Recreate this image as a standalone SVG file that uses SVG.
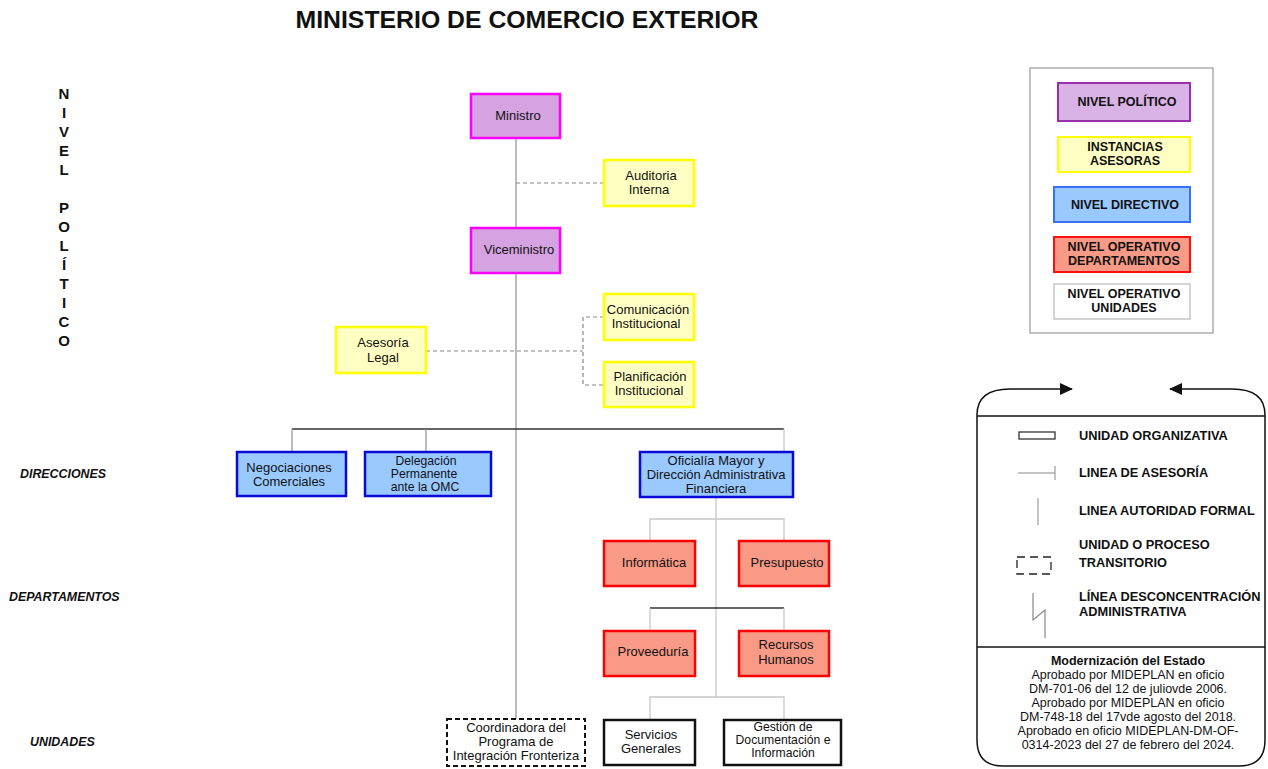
<svg xmlns="http://www.w3.org/2000/svg" width="1268" height="769" viewBox="0 0 1268 769">
<style>
text{font-family:"Liberation Sans",Arial,sans-serif;fill:#111;}
.t{font-size:13px;text-anchor:middle;}
.t3{font-size:12.2px;text-anchor:middle;}
.title{font-size:24.8px;font-weight:bold;text-anchor:middle;}
.side{font-size:15px;font-weight:bold;text-anchor:middle;}
.lvl{font-size:12.4px;font-weight:bold;font-style:italic;}
.leg{font-size:12.5px;font-weight:bold;text-anchor:middle;}
.leg2{font-size:12.8px;font-weight:bold;}
.foot{font-size:12.5px;text-anchor:middle;}
.pol{fill:#d5a3e2;stroke:#ff00ff;stroke-width:2.5;}
.ase{fill:#ffffc4;stroke:#ffff00;stroke-width:2.5;}
.dir{fill:#99c9ff;stroke:#0a0ad8;stroke-width:2.5;}
.dep{fill:#f99a86;stroke:#ff0000;stroke-width:2.5;}
.uni{fill:#fff;stroke:#111;stroke-width:2.5;}
.tra{fill:#fff;stroke:#111;stroke-width:2;stroke-dasharray:5 3;}
.g{stroke:#999;stroke-width:1.3;fill:none;}
.lg{stroke:#c8c8c8;stroke-width:1.3;fill:none;}
.dk{stroke:#333;stroke-width:1.3;fill:none;}
.ds{stroke:#888;stroke-width:1.2;stroke-dasharray:4 3;fill:none;}
</style>
<defs>
<marker id="ah" markerWidth="13" markerHeight="12" refX="12" refY="6" orient="auto" markerUnits="userSpaceOnUse"><path d="M0,0 L13,6 L0,12 z" fill="#111"/></marker>
</defs>
<text class="title" x="527" y="28">MINISTERIO DE COMERCIO EXTERIOR</text>
<g id="side-label">
<text class="side" x="64" y="99">N</text>
<text class="side" x="64" y="118">I</text>
<text class="side" x="64" y="137">V</text>
<text class="side" x="64" y="156">E</text>
<text class="side" x="64" y="175">L</text>
<text class="side" x="64" y="213">P</text>
<text class="side" x="64" y="232">O</text>
<text class="side" x="64" y="251">L</text>
<text class="side" x="64" y="270">Í</text>
<text class="side" x="64" y="289">T</text>
<text class="side" x="64" y="308">I</text>
<text class="side" x="64" y="327">C</text>
<text class="side" x="64" y="346">O</text>
</g>
<text class="lvl" x="20" y="478">DIRECCIONES</text>
<text class="lvl" x="9" y="601">DEPARTAMENTOS</text>
<text class="lvl" x="30" y="746">UNIDADES</text>
<g id="connectors">
<line class="g" x1="516" y1="138" x2="516" y2="719"/>
<line class="ds" x1="516" y1="183" x2="604" y2="183"/>
<line class="ds" x1="426" y1="351" x2="583" y2="351"/>
<polyline class="ds" points="604,317 583,317 583,385 604,385"/>
<line class="dk" x1="292" y1="429" x2="784" y2="429"/>
<line class="g" x1="292" y1="429" x2="292" y2="451"/>
<line class="g" x1="426" y1="429" x2="426" y2="451"/>
<line class="lg" x1="784" y1="429" x2="784" y2="451"/>
<line class="lg" x1="716" y1="497" x2="716" y2="697"/>
<polyline class="lg" points="650,540 650,519 784,519 784,540"/>
<line class="dk" x1="650" y1="608" x2="784" y2="608"/>
<line class="lg" x1="650" y1="608" x2="650" y2="631"/>
<line class="lg" x1="784" y1="608" x2="784" y2="631"/>
<polyline class="lg" points="650,720 650,697 784,697 784,720"/>
</g>
<g id="ministro"><rect class="pol" x="471" y="94" width="89" height="44"/><text class="t" x="518" y="120">Ministro</text></g>
<g id="auditoria"><rect class="ase" x="604" y="160" width="90" height="46"/><text class="t" x="651" y="180">Auditoria</text><text class="t" x="649" y="194">Interna</text></g>
<g id="viceministro"><rect class="pol" x="471" y="228" width="89" height="45"/><text class="t" x="519" y="254">Viceministro</text></g>
<g id="comunicacion"><rect class="ase" x="604" y="294" width="90" height="46"/><text class="t" x="648" y="314">Comunicación</text><text class="t" x="646" y="328">Institucional</text></g>
<g id="planificacion"><rect class="ase" x="604" y="362" width="90" height="45"/><text class="t" x="650" y="381">Planificación</text><text class="t" x="649" y="395">Institucional</text></g>
<g id="asesoria"><rect class="ase" x="336" y="327" width="90" height="46"/><text class="t" x="383" y="347">Asesoría</text><text class="t" x="383" y="362">Legal</text></g>
<g id="negociaciones"><rect class="dir" x="237" y="452" width="109" height="44"/><text class="t" x="289" y="472">Negociaciones</text><text class="t" x="289" y="486">Comerciales</text></g>
<g id="delegacion"><rect class="dir" x="365" y="452" width="126" height="44"/><text class="t3" x="426" y="465">Delegación</text><text class="t3" x="424" y="478">Permanente</text><text class="t3" x="425" y="491">ante la OMC</text></g>
<g id="oficialia"><rect class="dir" x="640" y="452" width="153" height="45"/><text class="t" x="716" y="465">Oficialía Mayor y</text><text class="t" x="716" y="479">Dirección Administrativa</text><text class="t" x="716" y="493">Financiera</text></g>
<g id="informatica"><rect class="dep" x="604" y="541" width="91" height="45"/><text class="t" x="654" y="567">Informática</text></g>
<g id="presupuesto"><rect class="dep" x="739" y="541" width="90" height="45"/><text class="t" x="787" y="567">Presupuesto</text></g>
<g id="proveeduria"><rect class="dep" x="604" y="631" width="91" height="45"/><text class="t" x="653" y="656">Proveeduría</text></g>
<g id="recursos"><rect class="dep" x="739" y="631" width="90" height="45"/><text class="t" x="786" y="649">Recursos</text><text class="t" x="786" y="664">Humanos</text></g>
<g id="coordinadora"><rect class="tra" x="447" y="719" width="138" height="47"/><text class="t" x="516" y="732">Coordinadora del</text><text class="t" x="516" y="746">Programa de</text><text class="t" x="516" y="760">Integración Fronteriza</text></g>
<g id="servicios"><rect class="uni" x="604" y="720" width="91" height="45"/><text class="t" x="651" y="739">Servicios</text><text class="t" x="651" y="753">Generales</text></g>
<g id="gestion"><rect class="uni" x="724" y="720" width="117" height="45"/><text class="t3" x="783" y="731">Gestión de</text><text class="t3" x="783" y="744">Documentación e</text><text class="t3" x="783" y="757">Información</text></g>
<g id="legend-colors">
<rect x="1030" y="68" width="183" height="265" fill="#fff" stroke="#999" stroke-width="1.2"/>
<rect x="1058" y="83" width="132" height="38" fill="#d9b2e6" stroke="#9b2fae" stroke-width="2"/>
<text class="leg" x="1127" y="106">NIVEL POLÍTICO</text>
<rect x="1058" y="137" width="132" height="35" fill="#ffffc4" stroke="#ffff00" stroke-width="2"/>
<text class="leg" x="1125" y="151">INSTANCIAS</text><text class="leg" x="1125" y="165">ASESORAS</text>
<rect x="1054" y="187" width="136" height="35" fill="#99c9ff" stroke="#3b6ff5" stroke-width="2"/>
<text class="leg" x="1125" y="209">NIVEL DIRECTIVO</text>
<rect x="1054" y="237" width="136" height="35" fill="#f99a86" stroke="#ff1010" stroke-width="2"/>
<text class="leg" x="1124" y="251">NIVEL OPERATIVO</text><text class="leg" x="1124" y="265">DEPARTAMENTOS</text>
<rect x="1054" y="284" width="136" height="35" fill="#fff" stroke="#aaa" stroke-width="1"/>
<text class="leg" x="1124" y="298">NIVEL OPERATIVO</text><text class="leg" x="1124" y="312">UNIDADES</text>
</g>
<g id="legend-lines">
<path d="M977,415 Q977,389 1010,389 L1072,389" fill="none" stroke="#111" stroke-width="1.5" marker-end="url(#ah)"/>
<path d="M1265,415 Q1265,389 1232,389 L1170,389" fill="none" stroke="#111" stroke-width="1.5" marker-end="url(#ah)"/>
<path d="M977,415 L977,740 Q977,766 1003,766 L1239,766 Q1265,766 1265,740 L1265,415" fill="none" stroke="#111" stroke-width="1.5"/>
<line x1="977" y1="416" x2="1265" y2="416" stroke="#111" stroke-width="1.5"/>
<line x1="977" y1="647" x2="1265" y2="647" stroke="#111" stroke-width="1.5"/>
<rect x="1019" y="432" width="36" height="7" fill="#fff" stroke="#333" stroke-width="1.3"/>
<text class="leg2" x="1079" y="440">UNIDAD ORGANIZATIVA</text>
<line x1="1018" y1="473" x2="1055" y2="473" stroke="#888" stroke-width="1"/>
<line x1="1055" y1="466" x2="1055" y2="480" stroke="#888" stroke-width="1"/>
<text class="leg2" x="1079" y="477">LINEA DE ASESORÍA</text>
<line x1="1038" y1="498" x2="1038" y2="525" stroke="#888" stroke-width="1"/>
<text class="leg2" x="1079" y="515">LINEA AUTORIDAD FORMAL</text>
<rect x="1017" y="557" width="34" height="17" fill="none" stroke="#222" stroke-width="1.3" stroke-dasharray="8 5"/>
<text class="leg2" x="1079" y="549">UNIDAD O PROCESO</text>
<text class="leg2" x="1079" y="567">TRANSITORIO</text>
<polyline points="1033,593 1033,620 1045,610 1045,638" fill="none" stroke="#888" stroke-width="1.2"/>
<text class="leg2" x="1079" y="601">LÍNEA DESCONCENTRACIÓN</text>
<text class="leg2" x="1079" y="616">ADMINISTRATIVA</text>
<text class="foot" x="1128" y="665" font-weight="bold">Modernización del Estado</text>
<text class="foot" x="1128" y="679">Aprobado por MIDEPLAN en oficio</text>
<text class="foot" x="1128" y="693">DM-701-06 del 12 de juliovde 2006.</text>
<text class="foot" x="1128" y="707">Aprobado por MIDEPLAN en oficio</text>
<text class="foot" x="1128" y="721">DM-748-18 del 17vde agosto del 2018.</text>
<text class="foot" x="1128" y="735">Aprobado en oficio MIDEPLAN-DM-OF-</text>
<text class="foot" x="1128" y="749">0314-2023 del 27 de febrero del 2024.</text>
</g>
</svg>
